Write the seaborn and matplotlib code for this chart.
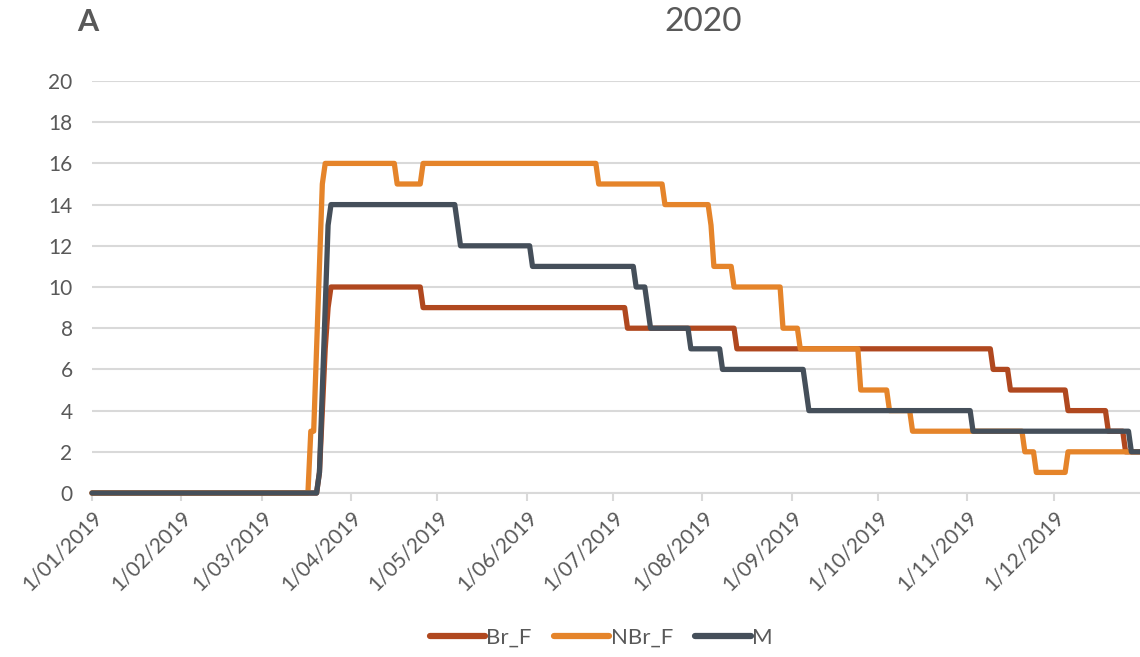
import pandas as pd
import matplotlib.pyplot as plt
import matplotlib.dates as mdates
from matplotlib.ticker import FuncFormatter
import seaborn as sns

# --- estilo ---
sns.set_style("white")
plt.rcParams['font.family'] = ['Lato', 'DejaVu Sans']
TEXT = '#595959'
GRID = '#d9d9d9'

# --- datos (fechas de cambio y valor desde esa fecha) ---
br_f_dates = ['2019-01-01', '2019-03-21', '2019-03-22', '2019-03-23', '2019-03-24',
              '2019-03-25', '2019-04-26', '2019-07-06', '2019-08-13', '2019-11-10',
              '2019-11-16', '2019-12-06', '2019-12-20', '2019-12-26']
br_f_values = [0, 1, 4, 7, 9, 10, 9, 8, 7, 6, 5, 4, 3, 2]

nbr_f_dates = ['2019-01-01', '2019-03-18', '2019-03-20', '2019-03-21', '2019-03-22',
               '2019-03-23', '2019-04-17', '2019-04-26', '2019-06-26', '2019-07-19',
               '2019-08-04', '2019-08-05', '2019-08-12', '2019-08-29', '2019-09-04',
               '2019-09-25', '2019-10-05', '2019-10-13', '2019-11-21', '2019-11-25',
               '2019-12-06']
nbr_f_values = [0, 3, 7, 11, 15, 16, 15, 16, 15, 14, 13, 11, 10, 8, 7, 5, 4, 3, 2, 1, 2]

m_dates = ['2019-01-01', '2019-03-21', '2019-03-22', '2019-03-23', '2019-03-24',
           '2019-03-25', '2019-05-08', '2019-05-09', '2019-06-03', '2019-07-09',
           '2019-07-13', '2019-07-14', '2019-07-28', '2019-08-08', '2019-09-06',
           '2019-09-07', '2019-11-03', '2019-12-28']
m_values = [0, 1, 5, 9, 13, 14, 13, 12, 11, 10, 9, 8, 7, 6, 5, 4, 3, 2]

series_names = ['Br_F', 'NBr_F', 'M']
colors = ['#b0481f', '#e5842a', '#454f5a']
days = pd.date_range('2019-01-01', '2019-12-31', freq='D')


def daily(dates, values, name):
    # valor diario (escalón): se mantiene hasta el siguiente cambio
    s = pd.Series(values, index=pd.to_datetime(dates)).reindex(days).ffill()
    return pd.DataFrame({'Date': days, 'Value': s.values, 'Series': name})


df = pd.concat([
    daily(br_f_dates, br_f_values, 'Br_F'),
    daily(nbr_f_dates, nbr_f_values, 'NBr_F'),
    daily(m_dates, m_values, 'M'),
])

fig = plt.figure(figsize=(11.4, 6.57), dpi=100)
ax = fig.add_axes([0.0807, 0.2496, 0.9193, 0.6271])

sns.lineplot(data=df, x='Date', y='Value', hue='Series', hue_order=series_names,
             palette=colors, linewidth=3.8, ax=ax, legend=False)
for ln in ax.lines:
    ln.set_clip_on(False)
    ln.set_zorder(3)
    ln.set_solid_joinstyle('round')

ax.set_xlim(pd.Timestamp('2019-01-01'), pd.Timestamp('2019-12-31'))
ax.set_ylim(0, 20)
ax.set_yticks(range(0, 21, 2))
ax.grid(axis='y', color=GRID, linewidth=1.5)
ax.set_axisbelow(True)
ax.set_xlabel('')
ax.set_ylabel('')

for side in ['top', 'right', 'left']:
    ax.spines[side].set_visible(False)
ax.spines['bottom'].set_color(GRID)
ax.spines['bottom'].set_linewidth(1.5)

ax.xaxis.set_major_locator(mdates.MonthLocator())
ax.xaxis.set_major_formatter(FuncFormatter(
    lambda v, pos: (lambda d: f"{d.day}/{d.month:02d}/{d.year}")(mdates.num2date(v))))
ax.tick_params(axis='x', length=6, width=1.5, color=GRID, labelcolor=TEXT,
               labelsize=15, pad=4, bottom=True)
ax.tick_params(axis='y', length=0, labelcolor=TEXT, labelsize=15, pad=14)
for lab in ax.get_xticklabels():
    lab.set_rotation(45)
    lab.set_ha('right')
    lab.set_rotation_mode('anchor')

# títulos
fig.text(703 / 1140, 1 - 22 / 657, '2020', ha='center', va='center',
         fontsize=24, color=TEXT)
fig.text(88 / 1140, 1 - 22 / 657, 'A', ha='center', va='center',
         fontsize=22, fontweight='bold', color=TEXT)

# leyenda
handles = [plt.Line2D([], [], color=c, linewidth=4.5, solid_capstyle='round')
           for c in colors]
fig.legend(handles, series_names, loc='center', bbox_to_anchor=(601 / 1140, 1 - 638 / 657),
           ncol=3, frameon=False, fontsize=16, handlelength=2.5, handletextpad=0.05,
           columnspacing=1.0, labelcolor=TEXT)

fig.savefig('out.png', dpi=100)
plt.close(fig)
